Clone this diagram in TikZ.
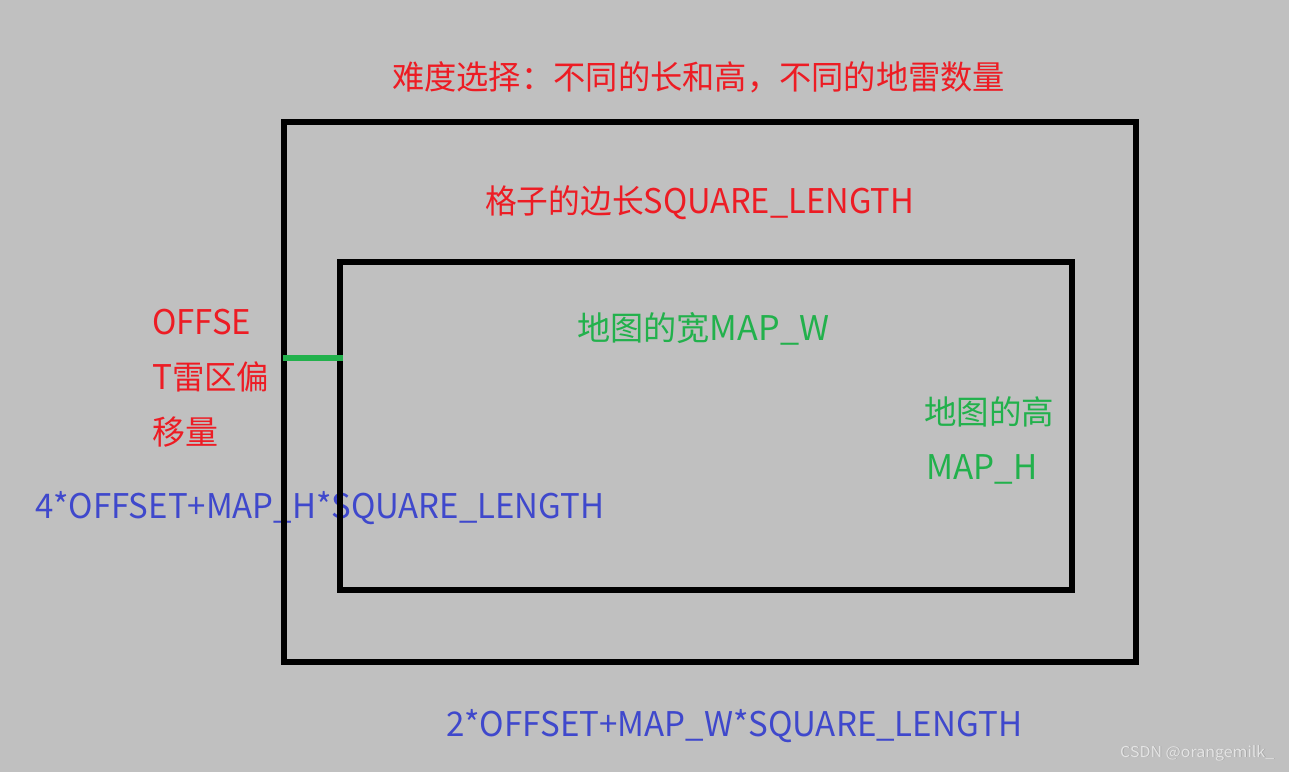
\documentclass[tikz,border=0pt]{standalone}
\usepackage{fontspec}
\usepackage{graphicx}
\setmainfont{Noto Sans CJK SC}
\definecolor{bg}{HTML}{C0C0C0}
\definecolor{pred}{HTML}{ED1C24}
\definecolor{pgreen}{HTML}{22B14C}
\definecolor{pblue}{HTML}{3F48CC}
\definecolor{wm}{HTML}{E4E4E4}
\newcommand\cjs{\fontsize{33}{40}\selectfont}
\newcommand\las{\fontsize{34}{40}\selectfont}
\newcommand\fitw[2]{\resizebox{#1}{\height}{#2}}
\tikzset{
  lbl/.style={inner sep=0pt, anchor=base west},
  redtxt/.style={lbl, text=pred},
  greentxt/.style={lbl, text=pgreen},
  bluetxt/.style={lbl, text=pblue},
  frame/.style={draw=black, line width=6pt, inner sep=0pt},
  wmark/.style={inner sep=0pt, anchor=base west, font=\fontsize{15}{18}\selectfont},
}
\begin{document}
\begin{tikzpicture}[x=1pt,y=-1pt]
\fill[bg] (0,0) rectangle (1289,772);
\useasboundingbox (0,0) rectangle (1289,772);
% texts
\node[redtxt] (title) at (392,89) {\fitw{613pt}{\cjs 难度选择：不同的长和高，不同的地雷数量}};
\node[redtxt] (sq) at (485,213) {\fitw{429pt}{\cjs 格子的边长\las SQUARE\_LENGTH}};
\node[greentxt] (mw) at (577,340) {\fitw{252pt}{\cjs 地图的宽\las MAP\_W}};
\node[greentxt] (mh1) at (924,424) {\fitw{130pt}{\cjs 地图的高}};
\node[greentxt] (mh2) at (926,479) {\fitw{111pt}{\las MAP\_H}};
\node[redtxt] (o1) at (152,334) {\fitw{99pt}{\las OFFSE}};
\node[redtxt] (o2) at (152,389) {\fitw{117pt}{\las T\cjs 雷区偏}};
\node[redtxt] (o3) at (152,444) {\fitw{66pt}{\cjs 移量}};
\node[bluetxt] (hform) at (35,518) {\fitw{569pt}{\las 4*OFFSET+MAP\_H*SQUARE\_LENGTH}};
\node[bluetxt] (wform) at (446,736) {\fitw{576pt}{\las 2*OFFSET+MAP\_W*SQUARE\_LENGTH}};
% frames
\node[frame, minimum width=852pt, minimum height=540pt] (outer) at (710,392) {};
\node[frame, minimum width=732pt, minimum height=328pt] (inner) at (706,426) {};
\coordinate (ga) at (283,358);
\coordinate (gb) at (343,358);
\draw[pgreen, line width=6pt] (ga) -- (gb);
% watermark
\node[wmark, text=gray!70] (wms) at (1120.8,757.8) {\fitw{154pt}{CSDN @orangemilk\_}};
\node[wmark, text=wm] (wmt) at (1120,757) {\fitw{154pt}{CSDN @orangemilk\_}};
\end{tikzpicture}
\end{document}
